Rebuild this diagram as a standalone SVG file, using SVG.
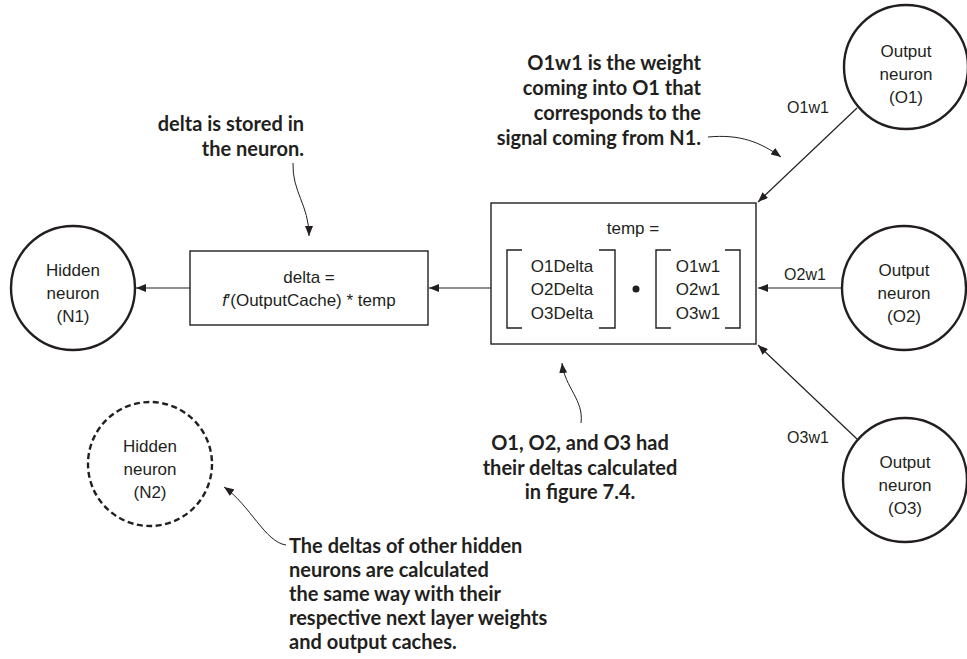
<svg xmlns="http://www.w3.org/2000/svg" width="967" height="659" viewBox="0 0 967 659">
<defs>
<marker id="ah" markerUnits="userSpaceOnUse" markerWidth="10" markerHeight="8" refX="10" refY="4" orient="auto">
<path d="M0,0 L10,4 L0,8 z" fill="#231f20"/>
</marker>
<style>
.t{font-family:"Liberation Sans",Arial,sans-serif;font-size:17px;fill:#231f20;text-anchor:middle}
.lb{font-family:"Liberation Sans",Arial,sans-serif;font-size:16px;fill:#231f20;text-anchor:middle}
.n{fill:#fff;stroke:#231f20;stroke-width:2.4}
.nd{fill:#fff;stroke:#231f20;stroke-width:2.4;stroke-dasharray:6,3.5}
.box{fill:#fff;stroke:#231f20;stroke-width:1.4}
.br{fill:none;stroke:#231f20;stroke-width:1.4}
.c{fill:none;stroke:#231f20;stroke-width:1.2;marker-end:url(#ah)}
.a{fill:none;stroke:#231f20;stroke-width:1;marker-end:url(#ah)}
.an{font-family:Lato,"Open Sans",sans-serif;font-weight:700;font-size:20px;fill:#231f20}
</style>
</defs>
<rect width="967" height="659" fill="#fff"/>

<g id="connectors">
<line class="c" x1="190" y1="288" x2="136" y2="288"/>
<line class="c" x1="491" y1="288" x2="429" y2="288"/>
<line class="c" x1="857" y1="108" x2="758" y2="202"/>
<line class="c" x1="842" y1="288" x2="758" y2="288"/>
<line class="c" x1="857" y1="439" x2="758" y2="345"/>
<text class="lb" x="808" y="113">O1w1</text>
<text class="lb" x="805" y="280">O2w1</text>
<text class="lb" x="808" y="443">O3w1</text>
</g>

<g id="n1">
<circle class="n" cx="73" cy="288" r="62"/>
<text class="t" x="73" y="276">Hidden</text>
<text class="t" x="73" y="299">neuron</text>
<text class="t" x="73" y="322">(N1)</text>
</g>

<g id="n2">
<circle class="nd" cx="150" cy="464" r="62"/>
<text class="t" x="150" y="452">Hidden</text>
<text class="t" x="150" y="475">neuron</text>
<text class="t" x="150" y="498">(N2)</text>
</g>

<g id="delta">
<rect class="box" x="190" y="251" width="238" height="74"/>
<text class="t" x="309" y="283">delta =</text>
<text class="t" x="309" y="306"><tspan font-style="italic">f</tspan>′(OutputCache) * temp</text>
</g>

<g id="temp">
<rect class="box" x="491" y="203" width="265" height="141"/>
<text class="t" x="633" y="234">temp =</text>
<path class="br" d="M522,250 H507 V328 H522 M599,250 H615 V328 H599 M671,250 H656 V328 H671 M725,250 H740 V328 H725"/>
<text class="t" x="562" y="272">O1Delta</text>
<text class="t" x="562" y="295">O2Delta</text>
<text class="t" x="562" y="319">O3Delta</text>
<circle cx="636" cy="289" r="3.5" fill="#231f20"/>
<text class="t" x="698" y="272">O1w1</text>
<text class="t" x="698" y="295">O2w1</text>
<text class="t" x="698" y="319">O3w1</text>
</g>

<g id="o1">
<circle class="n" cx="906" cy="67" r="62"/>
<text class="t" x="906" y="57">Output</text>
<text class="t" x="906" y="80">neuron</text>
<text class="t" x="906" y="103">(O1)</text>
</g>

<g id="o2">
<circle class="n" cx="904" cy="288" r="62"/>
<text class="t" x="904" y="276">Output</text>
<text class="t" x="904" y="299">neuron</text>
<text class="t" x="904" y="322">(O2)</text>
</g>

<g id="o3">
<circle class="n" cx="905" cy="480" r="62"/>
<text class="t" x="905" y="468">Output</text>
<text class="t" x="905" y="491">neuron</text>
<text class="t" x="905" y="514">(O3)</text>
</g>

<g id="annotations">
<text class="an" text-anchor="end"><tspan x="304" y="131">delta is stored in</tspan><tspan x="304" y="156">the neuron.</tspan></text>
<path class="a" d="M293,163 C292,192 309,205 309,236"/>

<text class="an" text-anchor="end"><tspan x="701" y="70">O1w1 is the weight</tspan><tspan x="701" y="95">coming into O1 that</tspan><tspan x="701" y="120">corresponds to the</tspan><tspan x="701" y="145">signal coming from N1.</tspan></text>
<path class="a" d="M708,137 C740,134 760,142 781,157"/>

<text class="an" text-anchor="middle"><tspan x="580" y="450">O1, O2, and O3 had</tspan><tspan x="580" y="475">their deltas calculated</tspan><tspan x="580" y="499">in figure 7.4.</tspan></text>
<path class="a" d="M581,423 C584,400 565,388 562,363"/>

<text class="an"><tspan x="289" y="553">The deltas of other hidden</tspan><tspan x="289" y="577">neurons are calculated</tspan><tspan x="289" y="601">the same way with their</tspan><tspan x="289" y="625">respective next layer weights</tspan><tspan x="289" y="649">and output caches.</tspan></text>
<path class="a" d="M286,545 C265,542 250,505 224,487"/>
</g>
</svg>
